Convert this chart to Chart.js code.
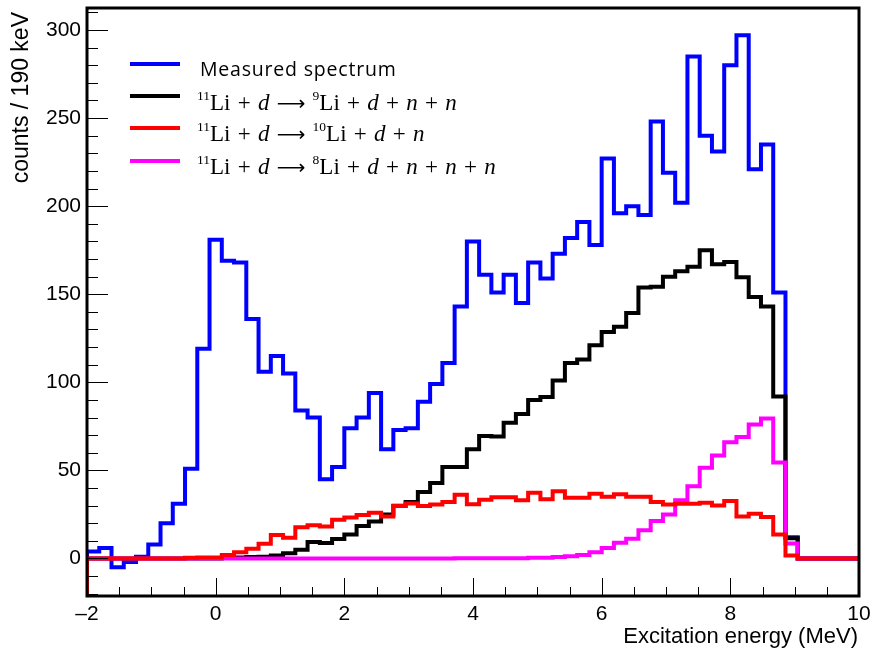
<!DOCTYPE html>
<html>
<head>
<meta charset="utf-8">
<script src="https://cdn.jsdelivr.net/npm/chart.js@4.4.0/dist/chart.umd.min.js"></script>
<style>
  html, body { margin: 0; padding: 0; background: #fff; }
  #wrap { position: relative; width: 875px; height: 653px; }
  #legend .swatch { position: absolute; left: 130px; width: 50px; height: 4px; }
  #legend .label { position: absolute; white-space: pre; color: #000; line-height: 1; }
  #legend .sans { font-family: "Open Sans", sans-serif; font-size: 19.5px; letter-spacing: 0.8px; left: 200px; }
  #legend .serif { font-family: "Liberation Serif", serif; font-size: 23px; left: 197px; word-spacing: 1.5px; }
  #legend sup { font-size: 13.5px; position: relative; top: -9.5px; vertical-align: baseline; line-height: 0; }
  #legend .arr { font-family: "DejaVu Sans", sans-serif; font-size: 20px; }
</style>
</head>
<body>
<div id="wrap">
  <canvas id="chart" width="875" height="653"></canvas>
  <div id="legend"></div>
</div>
<script>
/* histogram binning: 63 bins of ~190 keV between -2 and 10 MeV */
const X_MIN = -2, X_MAX = 10, N_BINS = 63;
const Y_MIN = -21.3, Y_MAX = 312.5;
const X_TICKS = [-2, 0, 2, 4, 6, 8, 10];
const Y_TICKS = [0, 50, 100, 150, 200, 250, 300];
const X_MINOR_STEP = 0.5, Y_MINOR_STEP = 10;

const measured = [
  4, 6, -5, -2, 1, 8, 20, 31, 51, 119,
  181, 169, 168, 136, 106, 115, 105, 84, 80, 45,
  52, 74, 80, 94, 62, 73, 74, 89, 99, 111,
  143, 180, 161, 151, 161, 145, 168, 159, 173, 182,
  191, 178, 227, 196, 200, 195, 248, 219, 202, 285,
  240, 231, 280, 297, 221, 235, 151, 12, 0, 0,
  0, 0, 0
];
const li9 = [
  0, 0, 0, 0, 0, 0, 0, 0, 0, 0,
  0, 0.3, 0.5, 0.8, 1, 1.7, 3, 5, 9.3, 8.8,
  11, 13.6, 18.5, 21, 25, 30, 32, 37.7, 42.8, 52,
  52, 62, 69.5, 69.3, 77, 82, 90, 91.7, 101, 111,
  113, 121, 128.5, 131.5, 139.4, 153.8, 154.3, 160, 163, 165.6,
  175, 167, 168.3, 159.6, 148.5, 143, 92, 11.5, 0, 0,
  0, 0, 0
];
const li10 = [
  0, 0, 0, 0, 0, 0, 0, 0, 0.4, 0.5,
  0.6, 2, 3.6, 5.5, 8.3, 13.3, 11.8, 17.7, 18.8, 18.2,
  22, 23.2, 24.7, 26, 23.9, 29.8, 31.2, 29.8, 30.7, 32,
  36.2, 30.8, 33.3, 34.8, 34.8, 33, 37.3, 33.6, 38.1, 34.5,
  34.5, 36.7, 35, 36.4, 35.1, 35.1, 32, 30.7, 31, 31,
  31.6, 30.1, 32.6, 23.9, 25.4, 23.5, 13.6, 1.7, 0, 0,
  0, 0, 0
];
const li8 = [
  0, 0, 0, 0, 0, 0, 0, 0, 0, 0,
  0, 0, 0, 0, 0, 0, 0, 0, 0, 0,
  0, 0, 0, 0, 0, 0, 0, 0, 0, 0,
  0.2, 0.2, 0.2, 0.2, 0.2, 0.2, 0.4, 0.4, 0.8, 1.2,
  2, 3.5, 6, 9, 11.2, 16, 21.3, 25, 33, 41,
  51.5, 58.5, 66, 69, 76, 79.5, 54.5, 8.5, 0, 0,
  0, 0, 0
];

const SERIES_COLORS = ['#0000ff', '#000000', '#ff0000', '#ff00ff'];
const ARROW = '<span class="arr">\u27F6</span>';
const LEGEND_LABELS = [
  'Measured spectrum',
  '<sup>11</sup>Li + <i>d</i> ' + ARROW + ' <sup>9</sup>Li + <i>d</i> + <i>n</i> + <i>n</i>',
  '<sup>11</sup>Li + <i>d</i> ' + ARROW + ' <sup>10</sup>Li + <i>d</i> + <i>n</i>',
  '<sup>11</sup>Li + <i>d</i> ' + ARROW + ' <sup>8</sup>Li + <i>d</i> + <i>n</i> + <i>n</i> + <i>n</i>'
];

const binEdges = Array.from({ length: N_BINS + 1 }, (_, i) => X_MIN + i * (X_MAX - X_MIN) / N_BINS);

/* ROOT-style outline: rise from the frame bottom, one step per bin */
function toSteps(values) {
  const pts = [{ x: X_MIN, y: Y_MIN }];
  values.forEach((v, i) => pts.push({ x: binEdges[i], y: v }));
  pts.push({ x: X_MAX, y: values[values.length - 1] });
  return pts;
}

function histDataset(label, values, color, order) {
  return {
    label, data: toSteps(values),
    borderColor: color, backgroundColor: color,
    borderWidth: 4, pointRadius: 0, stepped: true, tension: 0,
    fill: false, order,
  };
}

/* frame, inward ticks and axis titles */
const framePlugin = {
  id: 'rootFrame',
  afterDatasetsDraw(chart) {
    const { ctx, chartArea: a, scales: { x, y } } = chart;
    ctx.save();
    ctx.strokeStyle = '#000';
    ctx.lineWidth = 1;
    ctx.beginPath();
    for (let v = Math.ceil(Y_MIN / Y_MINOR_STEP) * Y_MINOR_STEP; v <= Y_MAX; v += Y_MINOR_STEP) {
      const py = Math.round(y.getPixelForValue(v)) + 0.5;
      const len = v % 50 === 0 ? 21 : 11;
      ctx.moveTo(a.left, py); ctx.lineTo(a.left + len, py);
    }
    for (let v = X_MIN; v <= X_MAX + 1e-9; v += X_MINOR_STEP) {
      const px = Math.round(x.getPixelForValue(v)) + 0.5;
      const len = Math.abs(v % 2) < 1e-9 ? 18 : 9;
      ctx.moveTo(px, a.bottom); ctx.lineTo(px, a.bottom - len);
    }
    ctx.stroke();

    ctx.lineWidth = 3;
    ctx.strokeRect(a.left, a.top, a.right - a.left, a.bottom - a.top);

    ctx.fillStyle = '#000';
    ctx.textAlign = 'right';
    ctx.textBaseline = 'alphabetic';
    ctx.font = '22px "Liberation Sans", Arial, sans-serif';
    ctx.fillText('Excitation energy (MeV)', a.right - 1, 643);
    ctx.font = '23px "Liberation Sans", Arial, sans-serif';
    ctx.translate(28, 12);
    ctx.rotate(-Math.PI / 2);
    ctx.fillText('counts / 190 keV', 0, 0);
    ctx.restore();
  },
};

const tickFont = { family: '"Liberation Sans", Arial, sans-serif', size: 21 };

new Chart(document.getElementById('chart'), {
  type: 'line',
  data: {
    datasets: [
      histDataset('Measured spectrum', measured, SERIES_COLORS[0], 3),
      histDataset('11Li + d -> 9Li + d + n + n', li9, SERIES_COLORS[1], 2),
      histDataset('11Li + d -> 10Li + d + n', li10, SERIES_COLORS[2], 0),
      histDataset('11Li + d -> 8Li + d + n + n + n', li8, SERIES_COLORS[3], 1),
    ],
  },
  options: {
    responsive: false,
    animation: false,
    layout: { padding: { top: 8, right: 16, left: 0, bottom: 0 } },
    plugins: { legend: { display: false }, tooltip: { enabled: false } },
    scales: {
      x: {
        type: 'linear', min: X_MIN, max: X_MAX,
        grid: { display: false, drawTicks: false },
        border: { display: false },
        ticks: {
          color: '#000', font: tickFont, padding: 6, autoSkip: false, maxRotation: 0,
          callback: v => (v < 0 ? '\u2013' + Math.abs(v) : String(v)),
        },
        afterBuildTicks: s => { s.ticks = X_TICKS.map(v => ({ value: v })); },
        afterFit: s => { s.height = 57; s.paddingLeft = 0; s.paddingRight = 0; },
      },
      y: {
        type: 'linear', min: Y_MIN, max: Y_MAX,
        grid: { display: false, drawTicks: false },
        border: { display: false },
        ticks: { color: '#000', font: tickFont, padding: 6 },
        afterBuildTicks: s => { s.ticks = Y_TICKS.map(v => ({ value: v })); },
        afterFit: s => { s.width = 87; s.paddingTop = 0; s.paddingBottom = 0; },
      },
    },
  },
  plugins: [framePlugin],
});

/* legend with superscripts and italics, as in the TLatex original */
const LEGEND_ROWS = [63.5, 95.5, 127.5, 161];
const LEGEND_BASELINES = [76.7, 110, 141, 174];
const legend = document.getElementById('legend');
LEGEND_LABELS.forEach((html, i) => {
  const sw = document.createElement('div');
  sw.className = 'swatch';
  sw.style.background = SERIES_COLORS[i];
  sw.style.top = (LEGEND_ROWS[i] - 2) + 'px';
  legend.appendChild(sw);
  const lb = document.createElement('div');
  lb.className = 'label ' + (i === 0 ? 'sans' : 'serif');
  lb.innerHTML = html;
  const ascent = i === 0 ? 0.888 * 19.5 : 0.8465 * 23;
  lb.style.top = (LEGEND_BASELINES[i] - ascent) + 'px';
  legend.appendChild(lb);
});
</script>
</body>
</html>
